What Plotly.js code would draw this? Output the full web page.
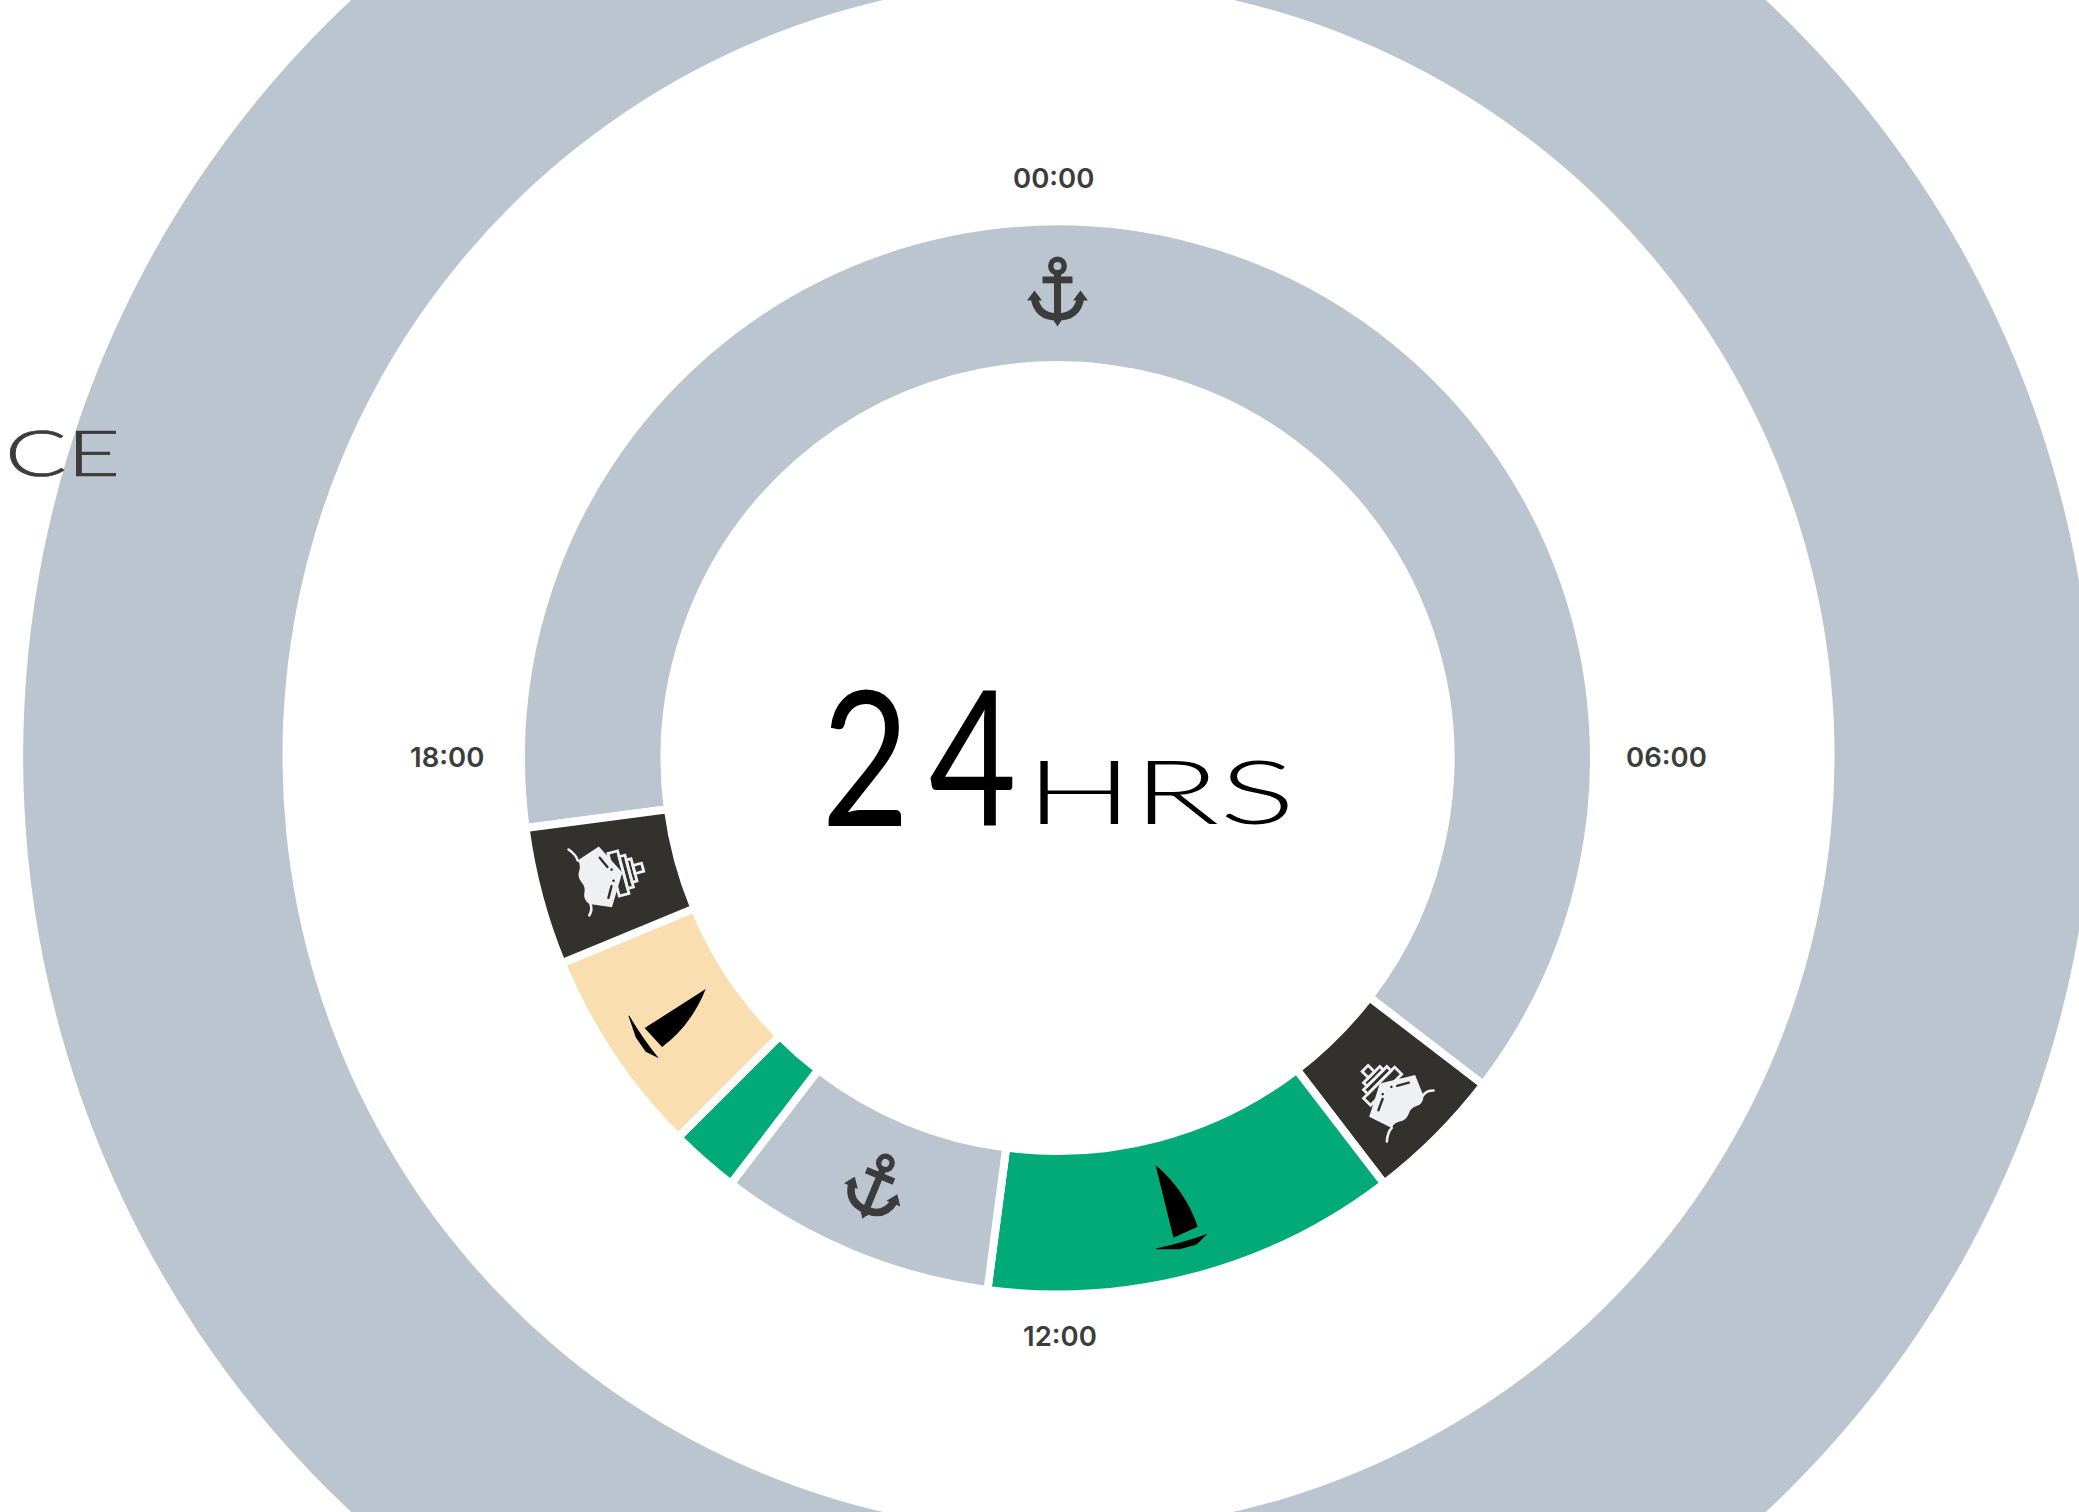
<!DOCTYPE html>
<html>
<head>
<meta charset="utf-8">
<script src="https://cdn.plot.ly/plotly-3.0.1.min.js"></script>
<style>
html,body{margin:0;padding:0;width:2079px;height:1512px;overflow:hidden;background:#fff}
#chart{position:absolute;left:-43px;top:-342px;width:2200px;height:2200px}
</style>
</head>
<body>
<div id="chart"></div>
<script>
// ---- data ----
var activities = ['At anchor (night)','Ship A','Sailing A','At anchor (day)','Sailing B','Sailing C','Ship B'];
var hours = [15, 1, 3, 2, 0.5, 1.5, 1];
var sliceColors = ['#BAC5D0','#33312D','#02AA78','#BAC5D0','#02AA78','#F9DFB0','#33312D'];
var outerLabels = ['Background'];
var outerValues = [1];
var outerColors = ['#BAC5D0'];
var clockLabels = ['00:00','06:00','12:00','18:00'];
var iconNames = ['anchor','ship','sail','anchor','sail','ship'];
var iconAngles = [0, 135.5, 164.6, 203, 235, 255.5];
var iconRot    = [0, -45, -15, 22.5, 56.25, 75];
var iconRadius = [467, 482, 466, 465, 467, 474];
var iconScale  = [1, 1, 1.03, 1, 1, 1];

// ---- page geometry ----
var W = 2200, LEFT = -43, TOP = -342, CX = 1057.5, CY = 758;
function px(x){ return (x - LEFT) / W; }
function py(y){ return 1 - (y - TOP) / W; }
function dom(cx, cy, r){ return {x:[px(cx - r), px(cx + r)], y:[py(cy + r), py(cy - r)]}; }

// ---- icons (drawn upright around 0,0, then turned) ----
var shapes = {
 anchor: '<g fill="#3C3C3C"><circle cx="0" cy="-25" r="6.7" fill="none" stroke="#3C3C3C" stroke-width="5.5"/>'
  + '<rect x="-15" y="-14.5" width="30" height="6.8"/><rect x="-3.5" y="-19" width="7" height="50"/>'
  + '<path d="M-3.5,30 L0,35.5 L3.5,30 Z"/><path d="M-23,-0.5 L-15.5,9.5 L-30.5,9.5 Z"/><path d="M23,-0.5 L15.5,9.5 L30.5,9.5 Z"/>'
  + '<path d="M-23,7 Q-20,26 0,26 Q20,26 23,7" fill="none" stroke="#3C3C3C" stroke-width="7.5"/></g>',
 ship: '<g fill="none" stroke="#EEF0F2" stroke-width="2.8" stroke-linejoin="miter">'
  + '<rect x="-2" y="-45" width="8.5" height="9"/><rect x="-9" y="-36" width="23" height="5"/><rect x="-14" y="-31" width="33" height="6"/><rect x="-20" y="-25" width="44" height="10"/></g>'
  + '<path fill="#EEF0F2" d="M2,-24 L33,-5 L24,16 Q18,21 12,18 Q6,15 1,18 Q-6,21 -11,17 Q-16,14 -21,16 L-29,-8 Z"/>'
  + '<path fill="none" stroke="#EEF0F2" stroke-width="2.6" stroke-linecap="round" d="M24,15 Q30,14 35,19 M-21,16 Q-27,16 -34,22"/>'
  + '<path fill="none" stroke="#33312D" stroke-width="2.4" stroke-linecap="round" d="M-18,-6 L-7,-11 M12.5,-10 L23,-4"/>'
  + '<circle cx="-3.5" cy="-14.4" r="1.3" fill="#33312D"/><circle cx="7.8" cy="-13.4" r="1.3" fill="#33312D"/>',
 sail: '<path fill="#000" d="M-13.5,-46 Q8.5,-14 10.5,22.5 L-15,26.5 Z"/>'
  + '<path fill="#000" d="M-34,32.3 Q-8,33.8 18,31.5 L5.2,38.7 L-12,39 L-34,33.2 Z"/>'
};
function iconUri(name, rot, scale){
  var svg = '<svg xmlns="http://www.w3.org/2000/svg" width="160" height="160" viewBox="-80 -80 160 160">'
    + '<g transform="rotate(' + rot + ') scale(' + scale + ')">' + shapes[name] + '</g></svg>';
  return 'data:image/svg+xml;charset=utf-8,' + encodeURIComponent(svg);
}
var images = iconNames.map(function(n,i){
  var a = iconAngles[i] * Math.PI / 180;
  return {source: iconUri(n, iconRot[i], iconScale[i]), xref:'paper', yref:'paper',
    x: px(CX + iconRadius[i]*Math.sin(a)), y: py(CY - iconRadius[i]*Math.cos(a)),
    sizex: 160/W, sizey: 160/W, xanchor:'center', yanchor:'middle', sizing:'stretch', layer:'above'};
});

// ---- text ----
var clockPos = [[1053,178],[1666,757],[1060,1336],[447,757]];
var clockFont = {family:'Inter, sans-serif', size:27.5, color:'#3C3C3C', weight:600};
var annotations = clockLabels.map(function(t,i){
  return {text:t, xref:'paper', yref:'paper', x:px(clockPos[i][0]), y:py(clockPos[i][1]),
    xanchor:'center', yanchor:'middle', showarrow:false, font:clockFont};
});
annotations.push({text:'24', xref:'paper', yref:'paper', x:px(919), y:py(753), xanchor:'center', yanchor:'middle',
  showarrow:false, font:{family:'Lato, sans-serif', size:188, color:'#000', weight:400}});
annotations.push({text:'HRS', xref:'paper', yref:'paper', x:px(1160), y:py(790), xanchor:'center', yanchor:'middle',
  showarrow:false, font:{family:'Lato, sans-serif', size:88, color:'#000', weight:300}});
annotations.push({text:'CE', xref:'paper', yref:'paper', x:px(62), y:py(452), xanchor:'center', yanchor:'middle',
  showarrow:false, font:{family:'Lato, sans-serif', size:63, color:'#3C3C3C', weight:300}});
var stretched = {'24':[195,'0 24',0], 'HRS':[270,'',0], 'CE':[115,'',0.7]};

// ---- chart ----
var traces = [
 {type:'pie', labels:outerLabels, values:outerValues, hole:0.7498, sort:false, direction:'clockwise',
  domain:dom(1058.5, 756, 1035), textinfo:'none', hoverinfo:'skip', showlegend:false,
  marker:{colors:outerColors, line:{width:0}}},
 {type:'pie', labels:activities, values:hours, hole:0.7325, sort:false, direction:'clockwise', rotation:262.5,
  domain:dom(CX, CY, 536.5), textinfo:'none', hoverinfo:'label+value', showlegend:false,
  marker:{colors:sliceColors, line:{color:'#FFFFFF', width:8}}}
];
var layout = {width:W, height:W, margin:{l:0,r:0,t:0,b:0}, paper_bgcolor:'#fff', showlegend:false,
  images:images, annotations:annotations};

Plotly.newPlot('chart', traces, layout, {displayModeBar:false, staticPlot:true}).then(function(gd){
  gd.querySelectorAll('.annotation-text').forEach(function(t){
    var s = stretched[t.textContent];
    if(s){
      if(s[1]) t.setAttribute('dx', s[1]);
      t.setAttribute('textLength', s[0]);
      t.setAttribute('lengthAdjust','spacingAndGlyphs');
      if(s[2]){ t.style.stroke = '#3C3C3C'; t.style.strokeWidth = s[2] + 'px'; }
    }
  });
});
</script>
</body>
</html>
